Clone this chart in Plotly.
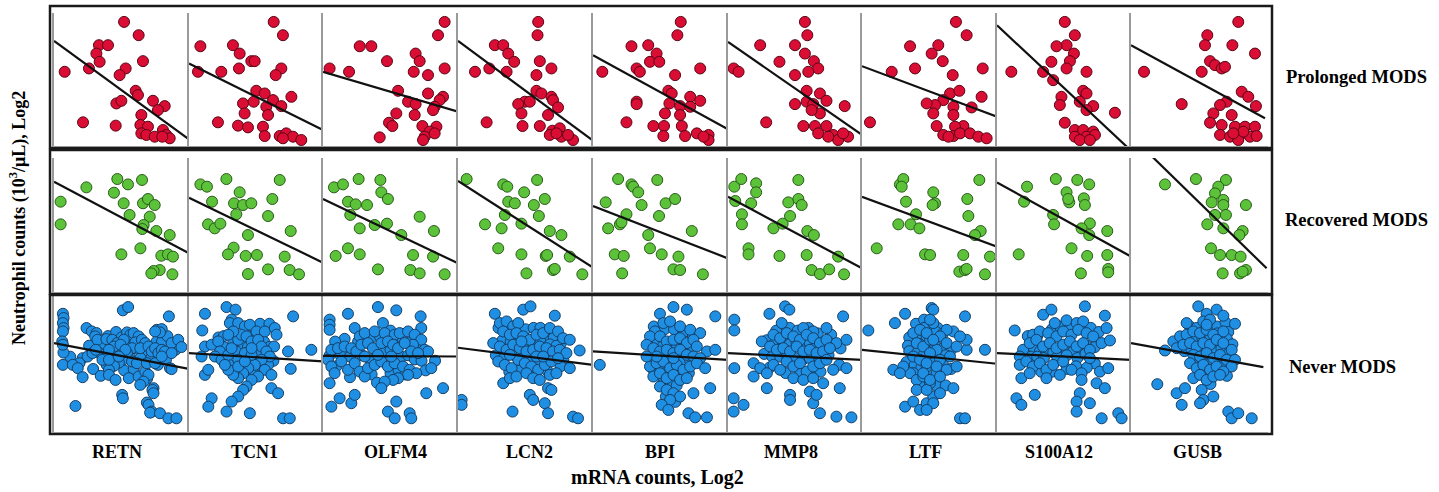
import plotly.graph_objects as go

# ---------------- DATA ----------------
genes = ["RETN", "TCN1", "OLFM4", "LCN2", "BPI", "MMP8", "LTF", "S100A12", "GUSB"]
groups = ["Prolonged MODS", "Recovered MODS", "Never MODS"]

# Prolonged MODS
pro_retn_x = [5.19,6.27,3.33,4.0,3.14,3.38,6.59,0.79,2.59,5.31,4.86,6.05,6.22,7.33,8.2,4.62,4.99,7.7,6.47,2.15,4.57,6.4,6.96,6.47,6.84,7.46,8.07,8.32,8.57,8.02]
pro_retn_y = [9.33,8.33,7.58,7.58,6.95,6.33,6.38,5.58,5.83,5.83,5.33,4.15,3.83,3.4,3.0,3.2,3.4,2.7,2.33,1.78,1.53,1.58,1.45,0.95,0.83,0.7,1.2,0.83,0.58,0.7]
pro_tcn1_x = [6.32,7.01,0.85,3.28,3.78,4.65,4.9,0.67,2.41,3.73,6.89,6.47,5.02,5.65,7.64,6.27,4.03,4.83,5.77,6.89,4.15,5.9,2.16,3.66,4.4,5.52,5.65,6.77,7.26,7.76,8.38,7.01]
pro_tcn1_y = [9.33,8.33,7.5,7.58,6.95,6.38,6.38,5.58,5.58,5.83,5.83,5.33,4.15,3.95,3.7,3.45,3.2,3.33,2.95,3.0,2.45,2.33,1.78,1.53,1.4,1.45,0.75,0.75,0.95,0.7,0.45,0.58]
pro_olfm4_x = [9.01,8.52,2.72,3.58,6.86,7.16,4.74,0.49,1.93,6.72,7.78,9.01,5.56,7.78,8.89,8.64,6.3,6.86,8.27,8.15,5.43,6.79,4.89,5.14,7.36,8.4,4.2,7.9,7.53,8.27,7.41]
pro_olfm4_y = [9.33,8.33,7.5,7.5,6.95,6.38,6.38,5.83,5.58,5.58,5.33,5.83,4.15,3.95,3.7,3.45,3.33,3.15,2.95,2.7,2.45,2.33,1.75,1.5,1.5,1.45,0.65,1.08,0.7,0.95,0.45]
pro_lcn2_x = [5.94,5.89,2.73,3.35,3.72,4.16,6.06,1.26,2.32,3.6,6.92,5.81,5.81,6.18,6.92,4.95,4.46,5.32,7.04,7.41,4.7,6.67,2.12,4.78,6.06,6.99,7.54,6.8,7.66,8.52,8.15,7.29]
pro_lcn2_y = [9.33,8.33,7.58,7.58,6.95,6.33,6.38,5.58,5.83,5.58,5.83,5.33,4.15,3.95,3.7,3.33,3.15,3.33,3.45,2.9,2.45,2.33,1.78,1.5,1.5,1.15,1.33,0.83,0.7,0.45,0.83,0.95]
pro_bpi_x = [6.5,6.25,2.85,4.09,4.71,4.22,4.91,0.69,3.23,3.47,6.08,7.94,5.58,5.83,7.2,7.94,3.23,3.23,5.66,6.45,7.2,5.33,6.45,2.48,4.47,5.26,6.58,5.21,6.82,7.69,8.56,8.56,8.19]
pro_bpi_y = [9.33,8.33,7.5,7.58,6.95,6.33,6.33,5.58,5.83,5.58,5.33,5.83,4.15,3.95,3.7,3.4,3.33,3.15,3.2,3.0,2.95,2.45,2.33,1.78,1.5,1.5,1.5,0.75,0.75,0.95,0.83,0.45,0.7]
pro_mmp8_x = [5.74,5.92,2.4,5.0,5.74,3.84,6.41,6.73,0.42,0.79,5.0,5.99,5.87,6.86,7.35,5.0,5.87,6.36,8.71,6.86,6.24,2.85,5.62,6.49,7.35,6.73,7.85,8.22,8.96,7.48,8.59]
pro_mmp8_y = [9.33,8.33,7.58,7.58,6.95,6.33,6.38,5.83,5.83,5.58,5.33,5.58,4.15,3.95,3.4,3.15,3.33,3.15,3.0,2.45,2.7,1.78,1.5,1.5,1.5,0.95,0.83,0.45,0.7,0.7,0.95]
pro_ltf_x = [6.96,7.75,5.65,5.16,5.98,6.72,8.94,6.52,7.21,6.02,8.86,5.41,6.77,8.12,5.28,6.77,5.53,7.51,6.89,6.02,6.77,7.26,8.0,8.62,9.23,6.4,0.59,2.2,3.56,3.93,4.79]
pro_ltf_y = [9.33,8.33,7.58,6.95,6.38,5.33,5.83,3.95,4.15,3.45,3.7,3.08,2.95,2.9,2.45,2.33,1.5,1.5,1.45,0.83,0.75,0.95,0.95,0.7,0.58,0.7,1.78,5.58,7.5,5.83,3.2]
pro_s100a12_x = [5.06,5.81,5.19,4.44,5.74,5.44,5.19,4.06,3.44,1.07,6.68,4.19,6.43,6.68,4.81,6.18,4.69,7.18,6.68,5.06,8.8,5.81,6.43,7.18,5.81,6.68,7.31,6.18,6.93]
pro_s100a12_y = [9.33,8.33,7.58,7.5,6.95,6.38,5.83,6.33,5.58,5.58,5.58,4.95,4.15,3.95,3.7,3.33,3.08,3.0,2.7,1.75,2.5,1.2,1.2,1.08,0.7,0.7,0.83,0.45,0.45]
pro_gusb_x = [7.83,5.57,5.4,7.4,9.05,5.77,6.13,6.62,6.86,5.16,0.95,8.08,8.56,6.98,9.12,6.5,6.01,7.35,3.7,5.77,6.62,7.59,8.32,9.05,6.5,7.23,7.96,8.69,9.17,7.83,8.2,7.47]
pro_gusb_y = [9.33,8.33,7.58,7.58,6.95,6.38,6.08,5.83,5.95,5.58,5.58,4.08,3.7,3.33,3.0,3.08,2.45,2.33,3.15,1.75,1.58,1.45,1.45,1.45,0.83,0.7,0.83,0.7,0.75,0.45,1.08,0.95]

# Recovered MODS
rec_retn_x = [0.49,0.49,2.4,4.69,5.48,6.52,4.44,5.16,6.59,6.96,7.46,5.6,7.09,6.64,6.54,7.58,8.57,6.4,4.99,7.95,8.44,8.81,7.83,7.38,7.21,8.77]
rec_retn_y = [6.74,5.05,7.81,8.43,8.03,8.36,7.41,6.62,6.62,6.94,6.49,5.75,5.62,5.0,4.7,4.55,4.25,3.26,2.81,2.71,2.81,2.64,1.64,1.57,1.39,1.32]
rec_tcn1_x = [0.85,1.34,2.79,6.77,3.78,1.72,3.36,4.03,4.65,6.22,3.53,5.9,1.42,1.92,2.34,4.4,7.59,3.33,2.91,4.23,5.07,7.14,4.4,5.9,7.51,8.21]
rec_tcn1_y = [8.03,7.86,8.43,8.36,7.44,6.74,6.62,6.49,6.62,6.94,5.8,5.67,5.05,4.75,5.1,4.25,4.55,3.31,2.81,2.69,2.76,2.64,1.34,1.69,1.64,1.32]
rec_olfm4_x = [0.81,1.48,2.64,4.25,4.32,4.81,1.85,2.42,3.26,2.02,3.83,4.74,2.72,5.8,7.16,8.22,0.94,1.85,2.72,4.07,6.67,8.15,6.47,7.16,9.01]
rec_olfm4_y = [7.81,8.03,8.43,8.36,7.44,6.94,6.74,6.54,6.49,5.75,5.0,5.1,4.75,4.25,5.62,4.55,2.69,3.26,2.81,1.69,2.76,2.64,1.64,1.39,1.32]
rec_lcn2_x = [0.64,3.35,3.65,5.86,4.9,3.72,4.21,6.43,5.62,3.47,5.99,2.0,3.23,4.7,6.8,7.66,2.98,4.7,6.5,6.6,8.28,5.07,7.04,7.17,9.21]
rec_lcn2_y = [8.43,8.03,7.86,8.36,7.44,6.74,6.62,6.94,6.49,5.75,5.67,5.05,4.75,5.1,4.55,4.25,3.26,2.81,2.69,2.76,2.64,1.39,1.64,1.72,1.32]
rec_bpi_x = [0.94,1.86,2.85,2.98,3.35,3.6,4.76,5.38,6.08,4.89,2.48,1.12,1.99,2.11,4.09,7.32,4.22,1.61,2.28,5.09,6.33,2.16,5.96,6.45,8.14]
rec_bpi_y = [6.69,8.43,8.03,7.86,7.44,6.49,8.36,6.62,6.94,5.67,5.8,4.75,5.05,5.2,4.25,4.55,3.26,2.81,2.69,2.81,2.64,1.39,1.69,1.64,1.32]
rec_mmp8_x = [0.47,0.99,2.1,2.1,0.54,1.73,1.04,1.04,3.39,4.08,4.5,5.25,5.25,5.5,4.63,5.92,6.41,5.87,3.84,1.53,1.53,8.22,6.24,6.86,7.55,8.66]
rec_mmp8_y = [7.86,8.43,8.11,7.44,6.79,6.62,5.8,5.05,4.75,5.1,6.69,8.36,6.94,6.49,5.67,4.55,4.25,2.76,2.69,3.26,2.81,2.64,1.64,1.34,1.69,1.32]
rec_ltf_x = [1.09,2.69,2.81,3.06,2.94,3.26,3.6,4.0,4.25,4.67,5.04,5.28,5.41,5.23,8.69,7.8,7.88,8.79,8.37,7.5,9.48,7.21,7.63,9.11,7.75]
rec_ltf_y = [3.26,5.05,8.03,8.43,7.86,6.74,5.05,5.8,4.75,2.81,2.76,7.44,6.62,6.49,8.36,6.94,5.67,4.55,4.25,2.76,2.64,1.52,1.64,1.32,1.72]
rec_s100a12_x = [2.24,2.02,4.39,5.99,6.88,5.19,5.39,5.31,6.48,6.56,4.19,4.26,6.93,6.31,6.88,8.23,5.56,1.62,6.73,8.23,8.3,8.3,6.26]
rec_s100a12_y = [7.86,6.74,8.43,8.36,8.03,7.44,6.69,6.94,6.99,6.49,5.75,5.05,5.12,4.75,4.25,4.55,3.26,2.81,2.69,2.76,1.72,1.47,1.39]
rec_gusb_x = [2.48,4.74,6.93,6.37,6.13,5.89,6.74,6.74,8.39,6.93,6.13,5.57,6.74,8.15,7.91,5.84,6.5,7.35,8.0,6.69,7.96,8.39,8.15]
rec_gusb_y = [8.03,8.43,8.36,7.86,7.36,6.69,6.87,6.49,6.49,5.75,5.75,5.05,4.75,4.55,4.25,3.26,2.76,2.76,2.64,1.39,1.39,1.64,1.52]

# Never MODS (outer points)
nev_retn_x = [0.66,0.71,0.66,0.71,0.66,0.61,0.66,0.66,1.59,5.1,5.49,8.51,2.41,2.8,3.15,3.05,3.22,3.88,4.32,4.68,4.44,4.07,3.78,5.41,5.66,5.9,6.27,6.02,5.78,5.41,5.1,4.8,4.44,4.07,5.17,4.93,5.29,6.51,6.76,6.39,7.0,7.24,7.49,7.73,7.98,8.22,7.61,7.98,7.85,7.49,8.71,9.2,9.44,8.71,8.59,8.71,2.12,2.49,2.85,1.88,1.39,1.76,2.12,3.46,4.07,4.56,5.54,6.27,6.76,7.0,6.63,6.39,7.37,7.29,7.37,5.05,5.1,6.88,7.0,7.24,7.12,7.85,8.47,9.07,3.1,3.59,4.07,4.8,5.78,6.14,6.88,7.49,7.98]
nev_retn_y = [8.63,8.32,7.95,7.59,7.34,6.61,6.37,4.9,1.9,8.88,9.12,8.44,7.59,7.34,7.22,6.98,6.73,6.78,6.73,6.49,6.24,6.0,5.39,7.27,7.1,7.22,6.98,6.54,6.12,5.76,5.27,5.07,4.83,4.54,6.73,6.37,6.0,6.73,6.49,6.12,6.24,5.88,6.12,5.76,6.0,5.88,7.46,7.51,7.27,7.34,6.49,6.73,6.2,5.76,4.66,4.59,5.39,5.51,5.76,5.02,4.9,4.66,4.0,4.1,4.17,3.8,3.93,4.05,4.41,4.17,3.68,3.44,3.2,3.07,2.83,2.71,2.46,2.15,1.98,1.49,1.41,1.37,1.0,1.0,6.0,5.27,5.27,5.51,5.15,5.02,5.02,5.02,5.51]
nev_tcn1_x = [1.19,0.99,2.8,3.47,3.18,3.05,3.67,4.17,4.54,5.04,5.66,6.4,6.53,7.77,6.35,7.39,9.13,7.59,1.19,1.69,2.18,2.31,1.94,2.43,2.93,3.18,3.67,3.92,4.29,4.67,5.16,5.41,5.78,6.03,5.41,4.91,4.42,4.04,3.67,3.3,2.93,2.68,4.17,4.67,3.67,5.66,6.15,5.16,4.67,4.29,4.04,3.67,3.18,1.69,1.44,2.8,4.54,6.15,6.65,7.02,7.52,1.19,1.44,0.94,4.67,3.67,4.17,3.3,2.93]
nev_tcn1_y = [8.63,7.41,9.12,8.93,8.2,7.95,7.95,7.71,7.83,7.34,7.34,7.59,7.1,8.44,6.24,5.88,6.0,4.61,6.24,6.37,6.61,5.88,5.51,5.27,5.63,6.12,6.73,7.1,6.98,6.61,6.73,6.24,5.88,5.51,5.27,4.9,4.66,4.29,3.93,4.17,4.54,4.9,5.76,5.63,5.27,4.54,4.17,4.05,3.8,3.32,3.07,2.59,2.22,2.46,1.85,1.49,1.37,3.2,2.83,1.0,1.0,4.17,4.54,5.51,6.12,4.78,5.15,7.34,7.1]
nev_olfm4_x = [0.49,0.49,0.49,1.85,4.07,5.43,7.23,4.44,7.28,2.35,2.72,3.09,3.83,4.57,5.31,5.68,6.3,6.79,7.28,6.67,7.53,7.78,0.62,1.11,1.6,2.1,2.47,2.84,3.33,3.7,4.32,4.81,5.19,5.56,6.05,6.54,7.04,0.37,0.62,0.86,1.36,1.85,2.35,2.72,3.09,3.33,3.83,4.32,4.81,5.31,5.93,6.42,6.91,6.3,5.56,5.19,4.57,4.32,0.49,0.62,1.23,2.1,2.35,4.81,5.31,6.42,6.54,5.43,7.65,8.02,8.89,3.09,4.07,5.06]
nev_olfm4_y = [8.2,7.83,7.46,8.63,9.12,8.88,8.44,7.95,7.59,7.59,6.98,7.22,7.34,7.22,7.1,7.22,7.34,7.1,6.73,6.37,6.0,5.88,6.0,6.12,6.24,6.12,5.88,6.37,6.49,6.12,6.49,6.61,6.37,6.12,6.49,5.88,5.76,5.27,4.78,4.29,5.15,4.54,5.02,4.41,4.05,4.66,4.9,5.15,4.78,5.02,4.78,4.54,4.29,4.17,3.93,3.8,3.68,3.2,3.56,1.85,2.46,2.1,2.71,1.49,1.0,1.37,1.0,2.22,2.83,4.66,3.2,5.51,5.63,5.51]
nev_lcn2_x = [2.73,4.83,5.37,7.17,3.1,3.6,4.09,4.46,3.35,3.84,4.33,4.83,5.32,5.81,6.31,6.8,7.41,7.78,8.28,9.01,2.61,3.1,3.6,4.09,4.58,5.07,5.57,6.06,6.55,7.04,7.54,8.03,2.98,3.47,3.97,4.46,4.95,5.44,5.94,6.43,6.92,7.41,8.28,3.35,3.84,4.33,5.07,5.57,6.06,6.8,7.29,6.67,6.92,5.32,5.57,6.43,6.67,4.04,8.52,8.89,4.7,5.81,6.31,3.84,0.27,0.27]
nev_lcn2_y = [8.63,8.93,9.17,8.49,7.95,8.07,7.71,7.95,7.34,7.1,7.22,6.98,6.73,7.1,7.22,7.59,7.34,6.85,6.73,5.95,6.49,6.24,6.0,6.37,6.12,5.88,6.0,6.24,6.12,5.88,6.0,5.76,5.15,4.9,4.66,5.27,5.02,4.78,4.54,4.9,5.15,5.39,4.66,3.56,3.93,4.05,4.29,3.93,3.8,4.17,4.29,3.2,3.07,2.71,2.34,2.1,1.37,1.49,1.12,1.0,6.61,5.51,5.51,5.63,2.34,1.98]
nev_bpi_x = [0.5,4.96,5.96,6.95,9.06,5.21,5.71,6.45,7.2,7.94,4.59,4.22,4.96,5.46,5.96,6.45,6.95,7.44,7.69,8.44,9.06,3.97,4.47,4.96,5.46,5.96,6.45,6.95,7.44,7.94,4.22,4.71,5.21,5.71,6.2,6.7,7.2,7.69,8.31,4.47,4.96,5.46,5.96,6.45,6.95,4.96,5.46,5.96,6.45,5.71,5.09,5.58,7.07,7.57,8.44,7.44,8.68,4.71,3.97,5.96]
nev_bpi_y = [4.9,8.63,9.12,8.93,8.44,7.95,8.07,7.71,7.46,7.22,7.34,6.98,6.98,6.61,6.73,6.85,6.49,6.73,6.24,5.88,6.0,6.37,6.12,5.88,6.0,5.76,6.0,5.63,5.51,5.39,4.78,5.02,5.15,4.66,4.9,4.54,4.78,5.02,4.66,4.05,4.29,3.93,4.17,3.8,3.93,3.32,3.07,2.83,2.59,2.34,1.98,1.61,1.37,1.07,1.07,2.83,3.2,5.51,5.51,5.39]
nev_mmp8_x = [0.47,0.47,3.09,4.26,4.58,8.59,4.01,5.62,7.35,6.36,2.52,3.39,3.89,4.38,4.88,5.37,5.87,6.36,6.86,7.35,8.09,8.84,3.14,3.64,4.13,4.63,5.12,5.62,6.11,6.61,7.1,7.6,1.91,2.4,2.9,3.39,3.89,4.38,4.88,5.37,5.87,6.36,6.86,7.35,7.85,8.84,0.47,1.91,4.88,5.62,6.36,7.1,8.34,4.63,4.63,6.36,6.86,8.09,9.21,0.42,0.42,1.16,2.9,6.11,6.61]
nev_mmp8_y = [8.2,7.41,8.63,9.17,8.93,8.44,7.95,7.59,7.59,7.34,6.61,7.1,6.85,7.22,6.98,6.73,7.1,6.85,6.49,6.73,6.49,6.73,6.24,6.0,6.12,5.88,6.24,5.88,6.0,5.76,5.88,6.12,5.02,4.66,4.29,4.9,4.54,5.15,4.78,5.02,4.41,4.78,5.02,5.27,4.54,4.66,4.66,4.05,3.93,3.8,3.93,3.56,3.2,2.71,2.34,2.1,1.37,1.12,1.07,2.46,1.49,1.98,3.2,2.95,2.71]
nev_ltf_x = [0.47,2.44,3.19,5.16,5.28,2.32,3.19,3.8,4.3,4.79,5.28,3.8,4.3,4.79,4.05,4.54,5.04,3.8,4.3,4.79,5.28,3.56,4.05,4.54,5.04,3.06,2.81,4.05,4.79,5.28,5.04,5.53,5.53,7.63,9.11,7.75,6.77,6.27,5.78,4.79,5.28,6.27,7.01,6.52,5.78,5.04,4.79,5.53,6.27,7.01,4.54,5.04,5.78,6.77,5.78,5.28,4.79,7.26,7.63,7.75,7.26]
nev_ltf_y = [7.41,7.95,8.63,9.05,8.93,4.54,1.85,2.22,1.61,2.1,2.59,7.22,7.46,6.98,6.49,6.24,6.73,5.51,5.27,4.78,5.02,4.29,3.8,4.05,3.56,4.78,4.29,3.07,3.07,7.95,8.2,6.0,4.29,8.44,6.0,6.0,7.34,7.46,6.98,7.22,6.73,6.49,6.24,5.51,5.27,5.76,5.02,4.78,4.54,4.78,4.29,3.8,4.05,3.2,2.83,2.1,1.61,1.0,1.0,6.73,6.98]
nev_s100a12_x = [1.32,3.44,4.06,6.56,8.05,4.31,5.19,5.94,6.43,8.18,2.69,3.19,3.82,4.44,4.94,5.56,6.06,6.68,7.18,1.95,2.44,2.94,3.44,3.94,4.44,4.94,5.44,5.94,6.43,6.93,7.81,8.43,1.7,1.7,2.19,2.69,3.19,3.69,4.19,4.94,5.56,6.31,6.93,7.68,8.3,1.82,2.44,3.69,4.69,6.31,7.43,8.05,6.18,5.94,5.94,6.93,1.45,1.82,2.82,7.81,9.05,9.3]
nev_s100a12_y = [7.41,8.56,8.93,9.17,8.49,7.95,8.15,7.95,8.07,7.59,7.1,7.34,7.22,6.98,7.34,7.1,7.46,7.22,6.98,6.0,6.49,6.73,6.24,6.49,6.12,6.37,6.61,6.24,6.49,6.0,6.49,6.68,5.51,4.9,5.15,4.78,5.02,4.54,4.9,5.15,4.54,4.29,5.39,4.41,4.66,3.93,4.29,3.93,4.17,3.8,3.56,3.2,2.83,2.22,1.49,2.1,2.46,1.98,2.71,1.0,1.37,1.0]
nev_gusb_x = [4.91,5.52,6.25,6.74,7.59,4.06,5.28,5.77,3.09,3.58,4.06,4.55,5.04,5.52,6.01,6.74,2.48,3.33,3.82,4.31,4.79,5.28,5.77,6.25,6.74,7.35,4.55,5.04,5.52,6.01,6.5,6.98,7.59,7.35,4.31,4.79,5.28,5.77,6.25,6.74,4.55,5.04,5.52,6.01,6.5,1.92,3.33,3.94,3.7,5.16,5.28,6.01,5.04,7.1,7.35,7.83,8.81,5.52]
nev_gusb_y = [9.17,8.63,8.93,8.49,7.9,7.95,8.07,8.2,6.61,6.98,7.1,7.34,7.22,7.46,7.1,7.34,5.95,6.12,6.37,6.49,6.24,6.49,6.37,6.73,6.49,6.0,5.63,5.51,5.76,5.39,5.63,5.27,5.27,4.78,5.02,4.66,4.9,4.54,4.78,4.41,3.93,4.17,3.8,4.05,4.17,3.49,2.83,3.2,1.98,3.07,2.34,2.59,2.1,1.49,1.0,1.37,1.0,7.83]

# Never MODS (dense core points, overlapping in the picture)
nev_retn_core_x = [2.6,3.5,4.0,4.6,5.0,5.6,6.1,6.6,7.2,7.6,8.0,8.4,3.3,4.3,5.0,5.6,6.4,7.7,2.9,3.9,5.2,5.9,6.9,8.3,9.0,1.2,0.7]
nev_retn_core_y = [6.3,6.2,7.0,7.3,6.9,6.4,6.1,5.6,5.4,6.6,6.6,7.0,5.8,5.8,5.8,5.5,5.4,4.9,4.6,4.9,4.5,4.6,3.9,5.3,6.0,5.5,5.8]
nev_tcn1_core_x = [3.9,4.4,4.9,5.2,4.6,4.0,3.5,5.0,5.6,6.0,3.3,2.6,2.2,4.8,5.4,3.0,6.3,5.9,4.2,5.3,6.0,2.6]
nev_tcn1_core_y = [6.4,6.2,6.0,5.6,5.3,5.0,5.9,6.9,6.6,6.2,6.5,6.2,6.9,4.3,4.8,4.9,5.2,4.9,7.3,7.9,7.9,7.0]
nev_olfm4_core_x = [1.3,2.0,2.9,3.5,4.5,5.0,5.8,6.3,6.8,7.3,1.6,2.6,3.6,4.2,5.0,5.9,6.5,7.0,1.0,2.0,3.6,4.0,5.0,5.6,6.1,7.6,8.3,0.9,0.5]
nev_olfm4_core_y = [5.6,5.5,5.6,5.3,5.8,6.0,5.5,5.6,5.3,5.2,6.8,6.6,6.9,7.0,7.4,6.8,6.5,6.2,4.8,4.0,4.2,3.6,4.3,4.5,4.2,4.5,5.2,6.6,5.6]
nev_lcn2_core_x = [3.0,3.6,4.3,5.0,5.6,6.1,6.6,7.1,7.6,3.3,3.9,4.4,5.0,5.6,6.1,6.8,7.3,2.8,3.4,4.2,4.7,5.3,6.9,7.8,3.8,4.6,5.3,6.0,6.6,7.6]
nev_lcn2_core_y = [7.6,7.6,7.4,7.5,7.6,7.6,7.0,6.9,6.4,6.7,6.6,6.6,6.3,6.4,6.6,6.4,6.3,5.6,5.4,5.6,5.6,5.4,5.6,5.3,4.4,4.5,4.6,4.9,4.5,4.8]
nev_bpi_core_x = [4.5,5.3,6.0,6.7,7.4,4.3,4.8,5.2,5.7,6.2,6.7,7.2,4.3,5.2,5.6,6.2,6.7,7.2,4.5,5.0,5.5,6.0,6.5,7.1,5.2,5.7,6.2,5.4,6.1,5.2]
nev_bpi_core_y = [7.7,7.5,7.5,7.3,7.0,6.6,6.5,6.3,6.3,6.4,6.2,6.1,5.5,5.6,5.4,5.5,5.2,5.2,4.5,4.7,4.4,4.6,4.4,4.3,3.6,3.7,3.4,2.6,2.2,4.0]
nev_mmp8_core_x = [3.6,4.6,5.2,6.0,6.7,7.7,2.9,3.5,4.1,4.6,5.1,5.6,6.1,6.6,7.6,8.4,2.7,3.3,3.9,4.4,5.0,5.6,6.1,6.8,7.5,3.1,4.3,5.4,6.1,6.9,8.3]
nev_mmp8_core_y = [7.4,7.6,7.4,7.6,7.2,7.1,6.7,6.5,6.6,6.4,6.6,6.4,6.5,6.3,6.5,6.1,5.7,5.5,5.5,5.6,5.4,5.3,5.4,5.4,5.6,4.7,4.3,4.3,4.2,4.4,4.9]
nev_ltf_core_x = [4.0,4.6,5.0,5.6,3.5,4.1,4.6,5.5,6.0,3.4,4.3,4.9,5.4,6.0,6.6,3.5,4.1,4.6,5.3,6.2,3.3,3.9,4.4,5.0,6.0,6.6,3.8,4.3,5.5,6.2]
nev_ltf_core_y = [7.9,8.2,7.7,7.6,6.9,7.1,7.6,7.3,7.2,6.3,6.4,6.2,6.4,6.1,6.0,5.9,5.8,5.7,5.6,5.6,5.1,4.9,4.7,4.4,4.9,4.6,4.3,3.5,3.4,3.4]
nev_s100a12_core_x = [2.3,3.0,4.1,4.7,5.4,6.3,7.0,7.6,2.2,2.7,3.2,3.7,4.2,4.7,5.2,5.7,6.2,6.7,7.3,2.5,3.0,3.5,4.5,5.2,6.0,6.6,7.3,3.3,4.1,5.2,5.9,6.7]
nev_s100a12_core_y = [7.0,7.0,7.5,7.7,7.6,7.6,7.6,7.3,5.8,6.2,5.9,6.0,5.8,6.0,6.0,5.9,6.1,6.3,6.2,5.5,5.5,5.4,5.5,5.6,5.4,5.7,5.0,4.4,4.4,4.6,4.8,4.7]
nev_gusb_core_x = [4.3,4.8,6.3,6.9,7.1,3.4,4.1,4.6,5.2,5.8,6.3,7.0,7.4,3.9,4.4,5.0,5.5,6.1,6.6,7.1,4.8,5.3,5.8,6.3,6.8,5.0,5.5,6.3,5.8,7.0]
nev_gusb_core_y = [7.7,7.6,7.7,8.0,7.3,6.6,6.7,6.9,6.9,6.9,7.2,6.8,6.4,5.9,6.1,6.0,6.1,6.0,6.1,5.7,5.3,5.2,5.0,5.1,4.9,4.4,4.5,4.5,3.5,4.1]

# fitted regression lines (intercept at x=0, slope, x end of line)
pro_fit_a = [7.9, 6.2, 5.58, 7.9, 6.83, 7.83, 6.0, 9.08, 7.58]
pro_fit_b = [-0.74, -0.5, -0.3, -0.75, -0.558, -0.7, -0.38, -0.943, -0.562]
pro_fit_xend = [10, 10, 10, 10, 10, 10, 10, 10, 9.78]
rec_fit_a = [8.23, 7.04, 6.94, 8.28, 6.42, 7.11, 7.11, 8.18, 11.65]
rec_fit_b = [-0.534, -0.485, -0.48, -0.646, -0.391, -0.534, -0.373, -0.554, -0.998]
rec_fit_xend = [10, 10, 10, 10, 10, 10, 10, 10, 9.9]
nev_fit_a = [6.49, 5.76, 5.56, 6.15, 5.88, 5.76, 6.0, 5.76, 6.49]
nev_fit_b = [-0.188, -0.061, -0.005, -0.125, -0.061, -0.049, -0.102, -0.049, -0.182]
nev_fit_xend = [10, 10, 10, 10, 10, 10, 10, 10, 9.66]

# ---------------- ASSEMBLY ----------------
points = [
    [(pro_retn_x, pro_retn_y), (pro_tcn1_x, pro_tcn1_y), (pro_olfm4_x, pro_olfm4_y),
     (pro_lcn2_x, pro_lcn2_y), (pro_bpi_x, pro_bpi_y), (pro_mmp8_x, pro_mmp8_y),
     (pro_ltf_x, pro_ltf_y), (pro_s100a12_x, pro_s100a12_y), (pro_gusb_x, pro_gusb_y)],
    [(rec_retn_x, rec_retn_y), (rec_tcn1_x, rec_tcn1_y), (rec_olfm4_x, rec_olfm4_y),
     (rec_lcn2_x, rec_lcn2_y), (rec_bpi_x, rec_bpi_y), (rec_mmp8_x, rec_mmp8_y),
     (rec_ltf_x, rec_ltf_y), (rec_s100a12_x, rec_s100a12_y), (rec_gusb_x, rec_gusb_y)],
    [(nev_retn_core_x + nev_retn_x, nev_retn_core_y + nev_retn_y),
     (nev_tcn1_core_x + nev_tcn1_x, nev_tcn1_core_y + nev_tcn1_y),
     (nev_olfm4_core_x + nev_olfm4_x, nev_olfm4_core_y + nev_olfm4_y),
     (nev_lcn2_core_x + nev_lcn2_x, nev_lcn2_core_y + nev_lcn2_y),
     (nev_bpi_core_x + nev_bpi_x, nev_bpi_core_y + nev_bpi_y),
     (nev_mmp8_core_x + nev_mmp8_x, nev_mmp8_core_y + nev_mmp8_y),
     (nev_ltf_core_x + nev_ltf_x, nev_ltf_core_y + nev_ltf_y),
     (nev_s100a12_core_x + nev_s100a12_x, nev_s100a12_core_y + nev_s100a12_y),
     (nev_gusb_core_x + nev_gusb_x, nev_gusb_core_y + nev_gusb_y)],
]
fits = [(pro_fit_a, pro_fit_b, pro_fit_xend),
        (rec_fit_a, rec_fit_b, rec_fit_xend),
        (nev_fit_a, nev_fit_b, nev_fit_xend)]

fills = ["#DA0D35", "#5CC23A", "#1E8FE3"]
edges = ["#5a0414", "#2b5c1b", "#163f66"]

W, H = 1439, 492
col_edges = [54, 189, 323, 458, 593, 728, 862, 997, 1131, 1268]
row_px = [(13, 146), (158, 292), (295, 432)]

def fx(px):
    return px / W

def fy(py):
    return 1 - py / H

fig = go.Figure()
layout = dict(
    width=W, height=H, margin=dict(l=0, r=0, t=0, b=0),
    paper_bgcolor="white", plot_bgcolor="white", showlegend=False,
)

k = 0
for r in range(3):
    a_list, b_list, xe_list = fits[r]
    for c in range(9):
        k += 1
        sfx = "" if k == 1 else str(k)
        xs, ys = points[r][c]
        fig.add_trace(go.Scatter(
            x=xs, y=ys, mode="markers", xaxis="x" + sfx, yaxis="y" + sfx,
            marker=dict(size=11, color=fills[r], line=dict(color=edges[r], width=1)),
            hoverinfo="skip"))
        xe = xe_list[c]
        fig.add_trace(go.Scatter(
            x=[0, xe], y=[a_list[c], a_list[c] + b_list[c] * xe], mode="lines",
            xaxis="x" + sfx, yaxis="y" + sfx,
            line=dict(color="#111111", width=2.2), hoverinfo="skip"))
        layout["xaxis" + sfx] = dict(
            domain=[fx(col_edges[c]), fx(col_edges[c + 1])], range=[0, 10],
            anchor="y" + sfx, showgrid=False, zeroline=False, showticklabels=False,
            ticks="", showline=True, linecolor="#c4c4c4", linewidth=2, fixedrange=True)
        layout["yaxis" + sfx] = dict(
            domain=[fy(row_px[r][1]), fy(row_px[r][0])], range=[0, 10],
            anchor="x" + sfx, showgrid=False, zeroline=False, showticklabels=False,
            ticks="", showline=True, linecolor="#9a9a9a", linewidth=2, fixedrange=True)

fig.update_layout(**layout)

# outer black boxes of each row
box_rows = [(6, 148), (150, 294), (295, 434)]
shapes = []
for (t, b) in box_rows:
    shapes.append(dict(type="rect", xref="paper", yref="paper",
                       x0=fx(50), x1=fx(1272), y0=fy(b), y1=fy(t),
                       line=dict(color="#1a1a1a", width=2.5), fillcolor="rgba(0,0,0,0)"))
fig.update_layout(shapes=shapes)

serif = "Liberation Serif, Times New Roman, serif"
ann = []
label_px = [117, 255, 395, 529, 660, 791, 925, 1059, 1197]
for g, px in zip(genes, label_px):
    ann.append(dict(text="<b>%s</b>" % g, x=fx(px), y=fy(452), xref="paper", yref="paper",
                    showarrow=False, xanchor="center", yanchor="middle",
                    font=dict(family=serif, size=18, color="black")))
ann.append(dict(text="<b>mRNA counts, Log2</b>", x=fx(657), y=fy(477), xref="paper", yref="paper",
                showarrow=False, xanchor="center", yanchor="middle",
                font=dict(family=serif, size=20, color="black")))
ann.append(dict(text="<b>Neutrophil counts (10<sup>3</sup>/μL), Log2</b>", x=fx(18), y=fy(218),
                xref="paper", yref="paper", showarrow=False, textangle=-90,
                xanchor="center", yanchor="middle",
                font=dict(family=serif, size=18, color="black")))
row_label_pos = [(1284, 77), (1283, 220), (1287, 367)]
for g, (px, py) in zip(groups, row_label_pos):
    ann.append(dict(text="<b>%s</b>" % g, x=fx(px), y=fy(py), xref="paper", yref="paper",
                    showarrow=False, xanchor="left", yanchor="middle",
                    font=dict(family=serif, size=18.5, color="black")))
fig.update_layout(annotations=ann)

fig.write_html("out.html", config={"displayModeBar": False},
               post_script="document.body.style.margin='0px';")
